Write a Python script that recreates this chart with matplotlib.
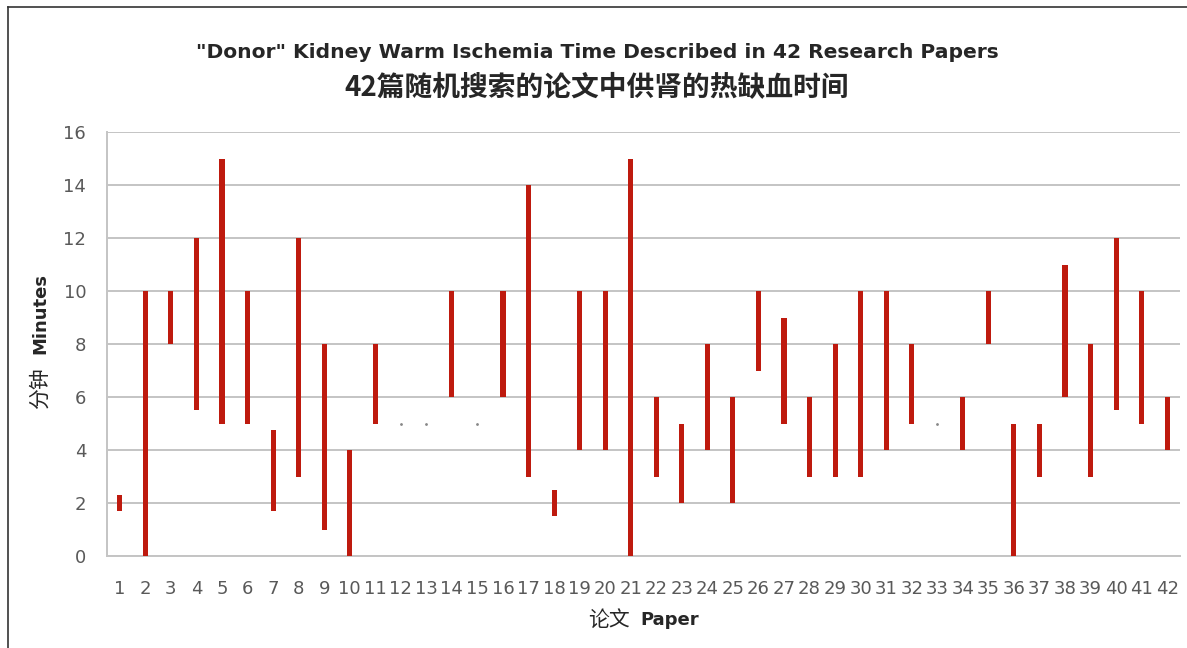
import numpy as np
import matplotlib.pyplot as plt
from matplotlib.lines import Line2D

# Khoang thoi gian thieu mau nong (phut) cho moi bai bao
papers = list(range(1, 43))
low = [1.7, 0, 8, 5.5, 5, 5, 1.7, 3, 1, 0,
       5, 5, 5, 6, 5, 6, 3, 1.5, 4, 4,
       0, 3, 2, 4, 2, 7, 5, 3, 3, 3,
       4, 5, 5, 4, 8, 0, 3, 6, 3, 5.5,
       5, 4]
high = [2.3, 10, 10, 12, 15, 10, 4.75, 12, 8, 4,
        8, 5, 5, 10, 5, 10, 14, 2.5, 10, 10,
        15, 6, 5, 8, 6, 10, 9, 6, 8, 10,
        10, 8, 5, 6, 10, 5, 5, 11, 8, 12,
        10, 6]
yticks = [0, 2, 4, 6, 8, 10, 12, 14, 16]

low = np.array(low)
high = np.array(high)
x = np.array(papers)

fig = plt.figure(figsize=(11.87, 6.48), dpi=100)
ax = fig.add_axes([107/1187, 1 - 556/648, 1073/1187, 424/648])

bar_color = '#BE1A0E'
grid_color = '#C4C4C4'
text_gray = '#595959'

# cac doan co do dai > 0 ve bang bar, con lai ve cham nho
rng = high > low
ax.bar(x[rng], high[rng] - low[rng], bottom=low[rng], width=0.2,
       color=bar_color, zorder=3)
ax.plot(x[~rng], low[~rng], linestyle='none', marker='.', markersize=2,
        color='#888888', zorder=3)

ax.set_xlim(0.5, 42.5)
ax.set_ylim(0, 16)
ax.set_yticks(yticks)
ax.set_xticks(papers)
ax.set_xticklabels([str(p) for p in papers])
ax.yaxis.grid(True, color=grid_color, linewidth=1.4, zorder=0)
ax.set_axisbelow(True)
for s in ['top', 'right']:
    ax.spines[s].set_visible(False)
for s in ['left', 'bottom']:
    ax.spines[s].set_color(grid_color)
    ax.spines[s].set_linewidth(1.4)
ax.tick_params(axis='y', length=0, pad=15, labelsize=13, labelcolor=text_gray)
ax.tick_params(axis='x', length=0, pad=17, labelsize=13, labelcolor=text_gray)

# tieu de 2 dong
fig.text(0.503, 1 - 52/648, '"Donor" Kidney Warm Ischemia Time Described in 42 Research Papers',
         ha='center', va='center', fontsize=14.6, fontweight='bold', color='#262626',
         family=['DejaVu Sans', 'Noto Sans CJK SC'])
fig.text(0.503, 1 - 88/648, '42篇随机搜索的论文中供肾的热缺血时间',
         ha='center', va='center', fontsize=20, fontweight='bold', color='#262626',
         family=['Noto Sans CJK SC', 'DejaVu Sans'])

# nhan truc
fig.text(609/1187, 1 - 620/648, '论文', ha='center', va='center', fontsize=15,
         color='#262626', family=['Noto Sans CJK SC'])
fig.text(670/1187, 1 - 620/648, 'Paper', ha='center', va='center', fontsize=13,
         fontweight='bold', color='#262626')
fig.text(40/1187, 1 - 314/648, 'Minutes', ha='center', va='center', fontsize=13,
         fontweight='bold', rotation=90, color='#262626')
fig.text(40/1187, 1 - 388/648, '分钟', ha='center', va='center', fontsize=15,
         rotation=90, color='#262626', family=['Noto Sans CJK SC'])

# khung ngoai (trai + tren)
fig.add_artist(Line2D([8/1187, 8/1187], [0, 1 - 7/648], transform=fig.transFigure,
                      color='#333333', linewidth=1.2))
fig.add_artist(Line2D([8/1187, 1], [1 - 7/648, 1 - 7/648], transform=fig.transFigure,
                      color='#333333', linewidth=1.2))

fig.savefig('out.png', dpi=100)
